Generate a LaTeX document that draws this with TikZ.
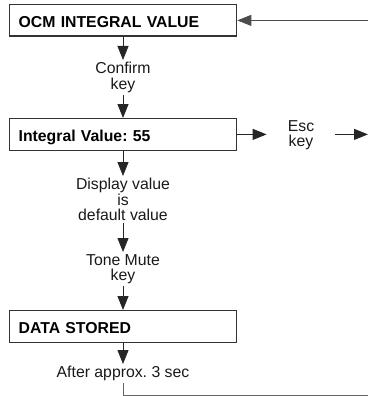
\documentclass[tikz,border=0pt]{standalone}
\usepackage{fontspec}
\setmainfont{Liberation Sans}
\usepackage{tikz}
\usetikzlibrary{positioning, arrows.meta}
\frenchspacing

\begin{document}
\begin{tikzpicture}[x=1pt, y=-1pt,
                  font=\fontsize{15.8}{15.5}\selectfont,
                  box/.style={draw=black!80, line width=1.3pt, anchor=north west,
                              minimum width=227pt, minimum height=31.5pt, inner xsep=9pt,
                              text width=209pt, align=left, text height=14pt, text depth=0pt,
                              font=\fontsize{15.8}{15.5}\selectfont\bfseries},
                  lbl/.style={align=center, inner sep=2pt, anchor=north, text=black!90},
                  arr/.style={-{Triangle[length=14pt, width=11pt]}, line width=0.9pt, black!85},
                  ret/.style={line width=0.9pt, black!60},
            ]
            \useasboundingbox (0,0) rectangle (368,396);

            % Display boxes stacked vertically
            \foreach \i/\y/\lab in {
                  1/4/OCM INTEGRAL VALUE,
                  2/118/Integral Value: 55,
                  3/310/DATA STORED}{
                  \node[box] (b\i) at (9,\y) {\lab};
                  }

            % Key presses and notes on the main line
            \node[lbl] (conf) at (123,60) {Confirm\\key};
            \node[lbl] (disp) at (123,176) {Display value\\is\\default value};
            \node[lbl] (tone) at (123,252) {Tone Mute\\key};
            \node[lbl] (after) at (123,364) {After approx. 3 sec};
            \node[lbl] (esc) at (301,118) {Esc\\key};

            % Right edge of the page, where the loop leaves and comes back
            \coordinate (rim) at (368,0);
            \coordinate (rbot) at (368,395);

            \draw[arr] (b1.south -| conf) -- (conf.north);
            \draw[arr] (conf.south) -- (b2.north -| conf);
            \draw[arr] (b2.south -| disp) -- (disp.north);
            \draw[arr] (disp.south) -- (tone.north);
            \draw[arr] (tone.south) -- (b3.north -| tone);
            \draw[arr] (b3.south -| after) -- (after.north);

            % Esc leaves the menu
            \draw[arr, shorten >=19pt] (b2.east) -- (b2.east -| esc.west);
            \draw[arr] ([xshift=19pt]esc.east |- b2.east) -- (rim |- b2.east);

            % Back to the top after the store
            \draw[ret] (after.south) |- (rbot);
            \draw[arr, black!70] (rim |- b1.east) -- (b1.east);
      \end{tikzpicture}
\end{document}
